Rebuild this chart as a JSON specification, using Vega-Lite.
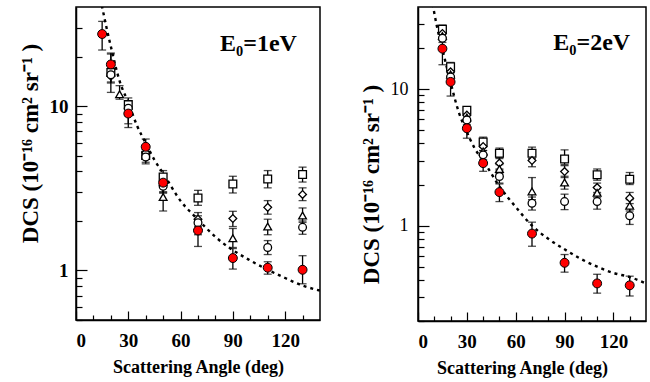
{
  "$schema": "https://vega.github.io/schema/vega-lite/v6.json",
  "padding": {"left": 18, "top": 6, "right": 0, "bottom": 0},
  "background": "white",
  "spacing": 98,
  "bounds": "flush",
  "datasets": {
    "p1": [
      {"s":"r","a":15,"v":27.4,"lo":21.9,"hi":32.7},{"s":"r","a":20,"v":17.9,"lo":15.2,"hi":21.0},{"s":"r","a":30,"v":9.0,"lo":7.8,"hi":10.4},{"s":"r","a":40,"v":5.65,"lo":5.0,"hi":6.3},{"s":"r","a":50,"v":3.42,"lo":3.0,"hi":3.85},{"s":"r","a":70,"v":1.75,"lo":1.4,"hi":2.0},{"s":"r","a":90,"v":1.19,"lo":1.02,"hi":1.36},{"s":"r","a":110,"v":1.04,"lo":0.95,"hi":1.13},{"s":"r","a":130,"v":1.01,"lo":0.83,"hi":1.23},
      {"s":"sq","a":20,"v":16.0,"lo":12.1,"hi":20.7},{"s":"sq","a":30,"v":10.2,"lo":7.4,"hi":11.2},{"s":"sq","a":40,"v":5.0,"lo":4.55,"hi":5.45},{"s":"sq","a":50,"v":3.7,"lo":3.35,"hi":4.05},{"s":"sq","a":70,"v":2.76,"lo":2.49,"hi":3.07},{"s":"sq","a":90,"v":3.36,"lo":2.96,"hi":3.74},{"s":"sq","a":110,"v":3.6,"lo":3.18,"hi":4.05},{"s":"sq","a":130,"v":3.83,"lo":3.45,"hi":4.25},
      {"s":"di","a":20,"v":15.2,"lo":13.8,"hi":16.8},{"s":"di","a":30,"v":9.6,"lo":8.7,"hi":10.6},{"s":"di","a":40,"v":5.2,"lo":4.75,"hi":5.7},{"s":"di","a":50,"v":3.3,"lo":3.0,"hi":3.6},{"s":"di","a":70,"v":2.05,"lo":1.85,"hi":2.25},{"s":"di","a":90,"v":2.07,"lo":1.85,"hi":2.29},{"s":"di","a":110,"v":2.42,"lo":2.2,"hi":2.66},{"s":"di","a":130,"v":2.9,"lo":2.66,"hi":3.18},
      {"s":"tr","a":25,"v":11.8,"lo":11.0,"hi":13.3},{"s":"tr","a":50,"v":2.8,"lo":2.3,"hi":3.2},{"s":"tr","a":70,"v":1.85,"lo":1.65,"hi":2.05},{"s":"tr","a":90,"v":1.57,"lo":1.38,"hi":1.8},{"s":"tr","a":110,"v":1.85,"lo":1.65,"hi":2.05},{"s":"tr","a":130,"v":2.16,"lo":1.96,"hi":2.4},
      {"s":"ci","a":20,"v":15.5,"lo":14.0,"hi":17.0},{"s":"ci","a":30,"v":9.7,"lo":8.8,"hi":10.7},{"s":"ci","a":40,"v":4.9,"lo":4.45,"hi":5.4},{"s":"ci","a":50,"v":3.25,"lo":2.95,"hi":3.55},{"s":"ci","a":70,"v":1.95,"lo":1.75,"hi":2.15},{"s":"ci","a":110,"v":1.38,"lo":1.25,"hi":1.52},{"s":"ci","a":130,"v":1.83,"lo":1.66,"hi":2.0}
    ],
    "p2": [
      {"s":"r","a":15,"v":19.8,"lo":15.1,"hi":24.0},{"s":"r","a":20,"v":11.3,"lo":8.9,"hi":13.2},{"s":"r","a":30,"v":5.17,"lo":4.37,"hi":6.0},{"s":"r","a":40,"v":2.87,"lo":2.5,"hi":3.3},{"s":"r","a":50,"v":1.76,"lo":1.5,"hi":2.02},{"s":"r","a":70,"v":0.874,"lo":0.706,"hi":1.06},{"s":"r","a":90,"v":0.534,"lo":0.456,"hi":0.614},{"s":"r","a":110,"v":0.377,"lo":0.32,"hi":0.44},{"s":"r","a":130,"v":0.365,"lo":0.305,"hi":0.426},
      {"s":"sq","a":15,"v":27.5,"lo":25.5,"hi":29.5},{"s":"sq","a":20,"v":14.6,"lo":13.6,"hi":15.7},{"s":"sq","a":30,"v":7.0,"lo":6.5,"hi":7.4},{"s":"sq","a":40,"v":4.1,"lo":3.8,"hi":4.45},{"s":"sq","a":50,"v":3.39,"lo":3.1,"hi":3.7},{"s":"sq","a":70,"v":3.39,"lo":3.1,"hi":3.76},{"s":"sq","a":90,"v":3.08,"lo":2.8,"hi":3.59},{"s":"sq","a":110,"v":2.36,"lo":2.15,"hi":2.6},{"s":"sq","a":130,"v":2.19,"lo":2.0,"hi":2.45},
      {"s":"di","a":15,"v":25.6,"lo":23.8,"hi":27.5},{"s":"di","a":20,"v":13.4,"lo":12.5,"hi":14.4},{"s":"di","a":30,"v":6.45,"lo":6.0,"hi":6.9},{"s":"di","a":40,"v":3.8,"lo":3.55,"hi":4.1},{"s":"di","a":50,"v":2.87,"lo":2.6,"hi":3.15},{"s":"di","a":70,"v":3.0,"lo":2.7,"hi":3.3},{"s":"di","a":90,"v":2.49,"lo":2.25,"hi":2.75},{"s":"di","a":110,"v":1.9,"lo":1.75,"hi":2.05},{"s":"di","a":130,"v":1.59,"lo":1.45,"hi":1.75},
      {"s":"tr","a":15,"v":24.5,"lo":22.8,"hi":26.3},{"s":"tr","a":20,"v":12.8,"lo":11.9,"hi":13.8},{"s":"tr","a":30,"v":6.2,"lo":5.75,"hi":6.65},{"s":"tr","a":40,"v":3.5,"lo":3.25,"hi":3.75},{"s":"tr","a":50,"v":2.6,"lo":2.4,"hi":2.8},{"s":"tr","a":70,"v":1.78,"lo":1.55,"hi":2.25},{"s":"tr","a":90,"v":2.07,"lo":1.85,"hi":2.3},{"s":"tr","a":110,"v":1.74,"lo":1.6,"hi":1.9},{"s":"tr","a":130,"v":1.4,"lo":1.28,"hi":1.55},
      {"s":"ci","a":15,"v":23.6,"lo":22.0,"hi":25.3},{"s":"ci","a":20,"v":12.3,"lo":11.4,"hi":13.2},{"s":"ci","a":30,"v":5.94,"lo":5.5,"hi":6.4},{"s":"ci","a":40,"v":3.3,"lo":3.05,"hi":3.55},{"s":"ci","a":50,"v":2.29,"lo":2.05,"hi":2.55},{"s":"ci","a":70,"v":1.46,"lo":1.3,"hi":1.62},{"s":"ci","a":90,"v":1.5,"lo":1.31,"hi":1.7},{"s":"ci","a":110,"v":1.5,"lo":1.32,"hi":1.7},{"s":"ci","a":130,"v":1.18,"lo":1.02,"hi":1.35}
    ],
    "c1": [
      {"a":14,"v":45},{"a":15,"v":40},{"a":17.5,"v":30},{"a":20,"v":23},{"a":25,"v":14.2},{"a":30,"v":10.5},{"a":35,"v":7.6},{"a":40,"v":5.95},{"a":45,"v":4.7},{"a":50,"v":3.9},{"a":60,"v":2.65},{"a":70,"v":2.04},{"a":80,"v":1.6},{"a":90,"v":1.33},{"a":100,"v":1.15},{"a":110,"v":1.01},{"a":120,"v":0.9},{"a":130,"v":0.81},{"a":140,"v":0.755}
    ],
    "c2": [
      {"a":9,"v":42},{"a":11.5,"v":29.3},{"a":15,"v":19.6},{"a":20,"v":11.2},{"a":25,"v":6.8},{"a":30,"v":4.85},{"a":35,"v":3.65},{"a":40,"v":3.0},{"a":50,"v":1.94},{"a":60,"v":1.37},{"a":70,"v":1.0},{"a":80,"v":0.8},{"a":90,"v":0.67},{"a":100,"v":0.57},{"a":110,"v":0.5},{"a":120,"v":0.45},{"a":130,"v":0.42},{"a":140,"v":0.377}
    ],
    "l1": [{"a":104.7,"v":23.9,"t":"E₀=1eV"}],
    "l2": [{"a":106.7,"v":21.7,"t":"E₀=2eV"}]
  },
  "hconcat": [
    {
      "width": 244, "height": 313,
      "encoding": {
        "x": {"field": "a", "type": "quantitative", "scale": {"domain": [0, 140], "nice": false, "zero": false},
          "axis": {"values": [0,10,20,30,40,50,60,70,80,90,100,110,120,130],
            "labelExpr": "datum.value % 30 == 0 ? datum.label : ''",
            "tickSize": {"condition": {"test": "datum.value % 30 == 0", "value": -9}, "value": -5},
            "labelPadding": 20, "labelFontSize": 19, "labelFont": "Liberation Serif", "titleFont": "Liberation Serif",
            "title": "Scattering Angle (deg)", "titleFontSize": 18, "titleY": 47, "titleBaseline": "middle"}}
      },
      "layer": [
        {"data": {"name": "c1"}, "mark": {"type": "line", "clip": true, "color": "black", "strokeDash": [3, 4], "strokeWidth": 2.4, "interpolate": "monotone"},
          "encoding": {"y": {"field": "v", "type": "quantitative", "scale": {"type": "log", "domain": [0.5, 40], "nice": false},
            "axis": {"values": [0.5,0.6,0.7,0.8,0.9,1,2,3,4,5,6,7,8,9,10,20,30],
              "labelExpr": "datum.value == 1 || datum.value == 10 ? format(datum.value, 'd') : ''",
              "tickSize": {"condition": {"test": "datum.value == 1 || datum.value == 10", "value": -11}, "value": -6},
              "labelPadding": 19, "labelFontSize": 19, "labelFont": "Liberation Serif", "titleFont": "Liberation Serif",
              "title": "DCS (10⁻¹⁶ cm² sr⁻¹ )", "titleFontSize": 23, "titleX": -46, "titleY": 136, "titleAngle": -90, "titleAlign": "center", "titleBaseline": "middle"}}}},
        {"data": {"name": "p1"}, "mark": {"type": "rule", "color": "black", "strokeWidth": 1.3},
          "encoding": {"y": {"field": "lo", "type": "quantitative", "scale": {"type": "log", "domain": [0.5, 40], "nice": false}}, "y2": {"field": "hi"}}},
        {"data": {"name": "p1"}, "mark": {"type": "tick", "orient": "horizontal", "color": "black", "size": 8, "thickness": 1.3},
          "encoding": {"y": {"field": "lo", "type": "quantitative", "scale": {"type": "log", "domain": [0.5, 40], "nice": false}}}},
        {"data": {"name": "p1"}, "mark": {"type": "tick", "orient": "horizontal", "color": "black", "size": 8, "thickness": 1.3},
          "encoding": {"y": {"field": "hi", "type": "quantitative", "scale": {"type": "log", "domain": [0.5, 40], "nice": false}}}},
        {"data": {"name": "p1"}, "transform": [{"filter": "datum.s != 'r'"}],
          "mark": {"type": "point", "filled": true, "fill": "white", "stroke": "black", "strokeWidth": 1.3, "size": 60, "opacity": 1},
          "encoding": {"y": {"field": "v", "type": "quantitative", "scale": {"type": "log", "domain": [0.5, 40], "nice": false}},
            "shape": {"field": "s", "type": "nominal", "scale": {"domain": ["sq", "di", "tr", "ci"], "range": ["square", "diamond", "triangle-up", "circle"]}, "legend": null}}},
        {"data": {"name": "p1"}, "transform": [{"filter": "datum.s == 'r'"}],
          "mark": {"type": "point", "shape": "circle", "filled": true, "fill": "#ff0000", "stroke": "black", "strokeWidth": 1, "size": 80, "opacity": 1},
          "encoding": {"y": {"field": "v", "type": "quantitative", "scale": {"type": "log", "domain": [0.5, 40], "nice": false}}}},
        {"data": {"name": "l1"}, "mark": {"type": "text", "font": "Liberation Serif", "fontWeight": "bold", "fontSize": 24, "color": "black"},
          "encoding": {"y": {"field": "v", "type": "quantitative", "scale": {"type": "log", "domain": [0.5, 40], "nice": false}}, "text": {"field": "t"}}}
      ]
    },
    {
      "width": 228, "height": 314,
      "encoding": {
        "x": {"field": "a", "type": "quantitative", "scale": {"domain": [0, 140], "nice": false, "zero": false},
          "axis": {"values": [0,10,20,30,40,50,60,70,80,90,100,110,120,130],
            "labelExpr": "datum.value % 30 == 0 ? datum.label : ''",
            "tickSize": {"condition": {"test": "datum.value % 30 == 0", "value": -9}, "value": -5},
            "labelPadding": 20, "labelFontSize": 19, "labelFont": "Liberation Serif", "titleFont": "Liberation Serif",
            "title": "Scattering Angle (deg)", "titleFontSize": 18, "titleX": 104, "titleY": 47, "titleBaseline": "middle"}}
      },
      "layer": [
        {"data": {"name": "c2"}, "mark": {"type": "line", "clip": true, "color": "black", "strokeDash": [3, 4], "strokeWidth": 2.4, "interpolate": "monotone"},
          "encoding": {"y": {"field": "v", "type": "quantitative", "scale": {"type": "log", "domain": [0.2, 40], "nice": false},
            "axis": {"values": [0.2,0.3,0.4,0.5,0.6,0.7,0.8,0.9,1,2,3,4,5,6,7,8,9,10,20,30],
              "labelExpr": "datum.value == 1 || datum.value == 10 ? format(datum.value, 'd') : ''",
              "tickSize": {"condition": {"test": "datum.value == 1 || datum.value == 10", "value": -11}, "value": -6},
              "labelPadding": 21, "labelFontSize": 18, "labelFontWeight": "normal", "labelFont": "Liberation Serif", "titleFont": "Liberation Serif",
              "title": "DCS (10⁻¹⁶ cm² sr⁻¹ )", "titleFontSize": 23, "titleX": -47, "titleY": 177, "titleAngle": -90, "titleAlign": "center", "titleBaseline": "middle"}}}},
        {"data": {"name": "p2"}, "mark": {"type": "rule", "color": "black", "strokeWidth": 1.3},
          "encoding": {"y": {"field": "lo", "type": "quantitative", "scale": {"type": "log", "domain": [0.2, 40], "nice": false}}, "y2": {"field": "hi"}}},
        {"data": {"name": "p2"}, "mark": {"type": "tick", "orient": "horizontal", "color": "black", "size": 8, "thickness": 1.3},
          "encoding": {"y": {"field": "lo", "type": "quantitative", "scale": {"type": "log", "domain": [0.2, 40], "nice": false}}}},
        {"data": {"name": "p2"}, "mark": {"type": "tick", "orient": "horizontal", "color": "black", "size": 8, "thickness": 1.3},
          "encoding": {"y": {"field": "hi", "type": "quantitative", "scale": {"type": "log", "domain": [0.2, 40], "nice": false}}}},
        {"data": {"name": "p2"}, "transform": [{"filter": "datum.s != 'r'"}],
          "mark": {"type": "point", "filled": true, "fill": "white", "stroke": "black", "strokeWidth": 1.3, "size": 60, "opacity": 1},
          "encoding": {"y": {"field": "v", "type": "quantitative", "scale": {"type": "log", "domain": [0.2, 40], "nice": false}},
            "shape": {"field": "s", "type": "nominal", "scale": {"domain": ["sq", "di", "tr", "ci"], "range": ["square", "diamond", "triangle-up", "circle"]}, "legend": null}}},
        {"data": {"name": "p2"}, "transform": [{"filter": "datum.s == 'r'"}],
          "mark": {"type": "point", "shape": "circle", "filled": true, "fill": "#ff0000", "stroke": "black", "strokeWidth": 1, "size": 80, "opacity": 1},
          "encoding": {"y": {"field": "v", "type": "quantitative", "scale": {"type": "log", "domain": [0.2, 40], "nice": false}}}},
        {"data": {"name": "l2"}, "mark": {"type": "text", "font": "Liberation Serif", "fontWeight": "bold", "fontSize": 24, "color": "black"},
          "encoding": {"y": {"field": "v", "type": "quantitative", "scale": {"type": "log", "domain": [0.2, 40], "nice": false}}, "text": {"field": "t"}}}
      ]
    }
  ],
  "resolve": {"scale": {"y": "independent", "x": "independent"}},
  "config": {
    "view": {"stroke": "black", "strokeWidth": 1.5},
    "axis": {"grid": false, "domainColor": "black", "domainWidth": 1.5, "tickColor": "black", "tickWidth": 1.2,
      "labelColor": "black", "labelFont": "Liberation Serif", "labelFontWeight": "bold", "labelOverlap": false,
      "titleFont": "Liberation Serif", "titleFontWeight": "bold", "titleColor": "black"}
  }
}
